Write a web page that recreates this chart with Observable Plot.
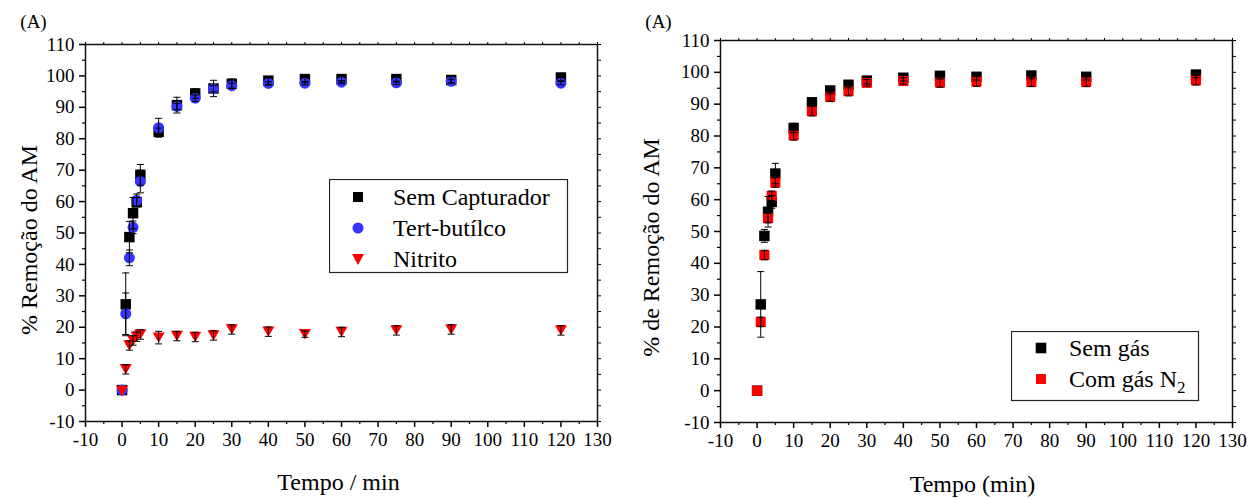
<!DOCTYPE html>
<html><head><meta charset="utf-8">
<script src="https://cdn.jsdelivr.net/npm/d3@7"></script>
<script src="https://cdn.jsdelivr.net/npm/@observablehq/plot@0.6"></script>
<style>
body{margin:0;background:#fff;font-family:"Liberation Serif","Times New Roman",serif;}
#wrap{position:relative;width:1257px;height:498px;overflow:hidden;}
#left{position:absolute;left:0;top:0;}
#right{position:absolute;left:630px;top:0;}
.leg{position:absolute;}
</style></head><body>
<div id="wrap"><div id="left"></div><div id="right"></div>
<svg class="leg" id="legL" style="left:329px;top:179px" width="240" height="95"></svg>
<svg class="leg" id="legR" style="left:1011px;top:331px" width="190" height="72"></svg>
</div>
<script>
// ---- data ----
const times = [0, 1, 2, 3, 4, 5, 10, 15, 20, 25, 30, 40, 50, 60, 75, 90, 120];

// Panel 1
const semCapturador    = [0, 27.3, 48.7, 56.3, 59.8, 68.5, 82.2, 90.7, 94.4, 96.0, 97.5, 98.5, 99.0, 99.0, 99.0, 98.7, 99.5];
const semCapturadorErr = [0, 10.0, 5.0, 5.0, 1.5, 3.3, 1.2, 2.5, 1.5, 2.6, 1.5, 1.2, 1.0, 1.0, 1.0, 1.0, 1.0];
const tertButilco      = [0, 24.3, 42.1, 51.8, 60.4, 66.4, 83.5, 90.3, 92.9, 95.9, 96.9, 97.6, 97.7, 98.0, 97.8, 98.3, 97.7];
const tertButilcoErr   = [0, 6.6, 2.5, 2.0, 2.0, 3.6, 3.0, 1.0, 1.0, 1.0, 0.8, 0.5, 0.5, 0.5, 0.5, 0.5, 0.5];
const nitrito          = [-0.3, 6.6, 14.2, 15.8, 17.0, 17.7, 16.7, 17.2, 16.9, 17.4, 19.3, 18.6, 17.8, 18.5, 19.0, 19.3, 19.0];
const nitritoErr       = [0, 1.5, 1.5, 1.5, 1.5, 1.5, 2.0, 1.5, 1.5, 1.5, 1.5, 1.5, 1.0, 1.5, 1.5, 1.5, 1.5];

// Panel 2
const semGas      = [0, 27.1, 48.6, 56.2, 59.3, 68.2, 82.5, 90.6, 94.3, 96.1, 97.4, 98.3, 98.9, 98.6, 99.0, 98.6, 99.3];
const semGasErr   = [0, 10.3, 2.0, 4.8, 2.0, 3.2, 1.5, 1.0, 1.0, 1.0, 1.0, 1.0, 1.0, 1.0, 1.0, 1.0, 1.0];
const comGasN2    = [0, 21.6, 42.6, 54.2, 61.2, 65.4, 80.2, 87.8, 92.3, 94.1, 96.7, 97.3, 96.8, 97.1, 97.0, 97.0, 97.5];
const comGasN2Err = [0, 1.5, 1.5, 1.5, 1.5, 1.5, 1.5, 1.5, 1.5, 1.5, 1.0, 1.0, 1.5, 1.5, 1.5, 1.5, 1.5];

const xTicks = d3.range(-10, 131, 10);
const xMinor = d3.range(-5, 130, 10);
const yTicks = d3.range(-10, 111, 10);
const yMinor = d3.range(-5, 110, 10);

// ---- helpers ----
const rows = (vals, errs) => times.map((t, i) => ({t, v: vals[i], e: errs[i]}));
const triDown = {draw(ctx, size) { const r = Math.sqrt(size / Math.PI); const w = 1.1 * r, h = 0.95 * r;
  ctx.moveTo(-w, -h); ctx.lineTo(w, -h); ctx.lineTo(0, h); ctx.closePath(); }};
const cap = {draw(ctx, size) { const r = Math.sqrt(size / Math.PI); ctx.moveTo(-r, 0); ctx.lineTo(r, 0); }};

function errMarks(data) {
  const d = data.filter(r => r.e > 0);
  return [
    Plot.ruleX(d, {x: "t", y1: r => r.v - r.e, y2: r => r.v + r.e, stroke: "#000", strokeWidth: 1}),
    Plot.dot(d, {x: "t", y: r => r.v + r.e, symbol: cap, r: 3.5, stroke: "#000", fill: "none", strokeWidth: 1}),
    Plot.dot(d, {x: "t", y: r => r.v - r.e, symbol: cap, r: 3.5, stroke: "#000", fill: "none", strokeWidth: 1})
  ];
}

function axes() {
  const fmt = d => String(d);
  return [
    Plot.axisX(xTicks, {tickSize: 6, tickPadding: 5, fontSize: 19, label: null, tickFormat: fmt, strokeWidth: 1.5}),
    Plot.axisX(xMinor, {tickSize: 3, text: null, label: null, strokeWidth: 1.2}),
    Plot.axisX(d3.range(-10, 131, 5), {anchor: "top", tickSize: 3, text: null, label: null, strokeWidth: 1}),
    Plot.axisY(yTicks, {tickSize: 6, tickPadding: 5, fontSize: 19, label: null, tickFormat: fmt, strokeWidth: 1.5}),
    Plot.axisY(yMinor, {tickSize: 3, text: null, label: null, strokeWidth: 1.2}),
    Plot.axisY(d3.range(-10, 111, 5), {anchor: "right", tickSize: 3, text: null, label: null, strokeWidth: 1}),
    Plot.frame({stroke: "#111", strokeWidth: 1.5})
  ];
}

const style = {fontFamily: "'Liberation Serif','Times New Roman',serif", fontSize: "19px", color: "#000", background: "#fff", overflow: "visible"};

// ---- left panel ----
const dA = rows(semCapturador, semCapturadorErr);
const dB = rows(tertButilco, tertButilcoErr);
const dC = rows(nitrito, nitritoErr);

const left = Plot.plot({
  width: 630, height: 498,
  marginLeft: 85, marginRight: 33, marginTop: 44, marginBottom: 77,
  x: {domain: [-10, 130]},
  y: {domain: [-10, 110]},
  style,
  marks: [
    ...axes(),
    Plot.dot(dA, {x: "t", y: "v", symbol: "square", r: 5.9, fill: "#000", stroke: "none"}),
    Plot.dot(dB, {x: "t", y: "v", symbol: "circle", r: 5.5, fill: "#3535ff", stroke: "none"}),
    Plot.dot(dC, {x: "t", y: "v", symbol: triDown, r: 5.5, fill: "#ff0000", stroke: "none"}),
    ...errMarks(dA), ...errMarks(dB), ...errMarks(dC),
    Plot.text(["% Remoção do AM"], {frameAnchor: "left", rotate: -90, dx: -56, dy: 7, fontSize: 24, textAnchor: "middle", lineAnchor: "middle"}),
    Plot.text(["Tempo / min"], {frameAnchor: "bottom", dx: -3, dy: 61, fontSize: 24, textAnchor: "middle", lineAnchor: "middle"}),
    Plot.text(["(A)"], {frameAnchor: "top-left", dx: -52, dy: -23, fontSize: 19, textAnchor: "middle", lineAnchor: "middle"})
  ]
});
document.getElementById("left").append(left);

// ---- right panel ----
const dD = rows(semGas, semGasErr);
const dE = rows(comGasN2, comGasN2Err);

const right = Plot.plot({
  width: 627, height: 498,
  marginLeft: 90, marginRight: 25, marginTop: 40, marginBottom: 76,
  x: {domain: [-10, 130]},
  y: {domain: [-10, 110]},
  style,
  marks: [
    ...axes(),
    Plot.dot(dD, {x: "t", y: "v", symbol: "square", r: 5.9, fill: "#000", stroke: "none"}),
    Plot.dot(dE, {x: "t", y: "v", symbol: "square", r: 5.7, fill: "#ff0000", stroke: "none"}),
    ...errMarks(dD), ...errMarks(dE),
    Plot.text(["% de Remoção do AM"], {frameAnchor: "left", rotate: -90, dx: -69, dy: 16, fontSize: 24, textAnchor: "middle", lineAnchor: "middle"}),
    Plot.text(["Tempo (min)"], {frameAnchor: "bottom", dx: -4, dy: 62, fontSize: 24, textAnchor: "middle", lineAnchor: "middle"}),
    Plot.text(["(A)"], {frameAnchor: "top-left", dx: -62, dy: -19, fontSize: 19, textAnchor: "middle", lineAnchor: "middle"})
  ]
});
document.getElementById("right").append(right);

// ---- legends ----
const legLeftItems = ["Sem Capturador", "Tert-butílco", "Nitrito"];
const legRightItems = ["Sem gás", "Com gás N"];
const ff = "'Liberation Serif','Times New Roman',serif";

(function () {
  const s = d3.select("#legL");
  s.append("rect").attr("x", 0.5).attr("y", 0.5).attr("width", 238).attr("height", 93).attr("fill", "#fff").attr("stroke", "#222").attr("stroke-width", 1.2);
  const ys = [18, 49, 80];
  s.append("rect").attr("x", 29 - 5).attr("y", ys[0] - 5).attr("width", 10).attr("height", 10).attr("fill", "#000");
  s.append("circle").attr("cx", 29).attr("cy", ys[1]).attr("r", 5.5).attr("fill", "#3535ff");
  s.append("path").attr("d", `M${29 - 6},${ys[2] - 5}L${29 + 6},${ys[2] - 5}L29,${ys[2] + 6}Z`).attr("fill", "#ff0000");
  legLeftItems.forEach((t, i) => s.append("text").attr("x", 64).attr("y", ys[i] + 8).attr("font-family", ff).attr("font-size", 24).text(t));
})();
(function () {
  const s = d3.select("#legR");
  s.append("rect").attr("x", 0.5).attr("y", 0.5).attr("width", 187).attr("height", 69).attr("fill", "#fff").attr("stroke", "#222").attr("stroke-width", 1.2);
  const ys = [17, 48];
  s.append("rect").attr("x", 30 - 5.3).attr("y", ys[0] - 5.3).attr("width", 10.6).attr("height", 10.6).attr("fill", "#000");
  s.append("rect").attr("x", 30 - 5).attr("y", ys[1] - 5).attr("width", 10).attr("height", 10).attr("fill", "#ff0000");
  s.append("text").attr("x", 58).attr("y", ys[0] + 8).attr("font-family", ff).attr("font-size", 24).text(legRightItems[0]);
  const t2 = s.append("text").attr("x", 58).attr("y", ys[1] + 8).attr("font-family", ff).attr("font-size", 24);
  t2.append("tspan").text(legRightItems[1]);
  t2.append("tspan").attr("dy", 6).attr("font-size", 17).text("2");
})();
</script>
</body></html>
